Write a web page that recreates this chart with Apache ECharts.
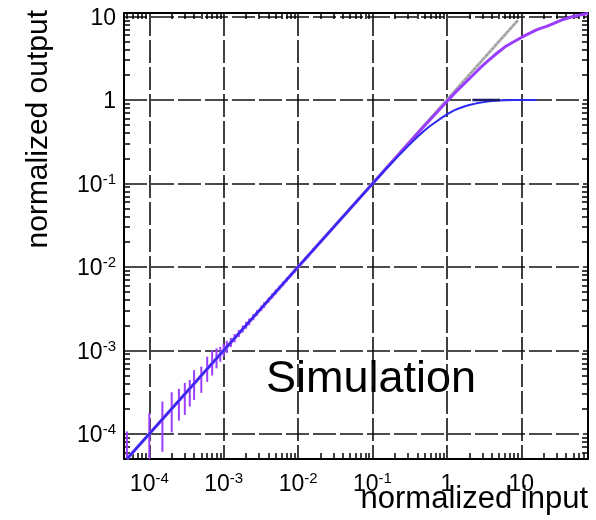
<!DOCTYPE html>
<html>
<head>
<meta charset="utf-8">
<script src="https://cdn.jsdelivr.net/npm/echarts@6/dist/echarts.min.js"></script>
<style>
  html, body { margin: 0; padding: 0; background: #fff; }
  #chart { width: 596px; height: 520px; }
</style>
</head>
<body>
<div id="chart"></div>
<script>
// Axis ranges (normalized input / normalized output)
const xRange = [4.57e-5, 78.9];
const yRange = [5e-5, 11];

// Decade tick values and their labels
const xTickValues = [1e-4, 1e-3, 1e-2, 1e-1, 1, 10];
const xTickLabels = ['{b|10}{s|-4}', '{b|10}{s|-3}', '{b|10}{s|-2}', '{b|10}{s|-1}', '{b|1}', '{b|10}'];
const yTickValues = [1e-4, 1e-3, 1e-2, 1e-1, 1, 10];
const yTickLabels = ['{b|10}{s|-4}', '{b|10}{s|-3}', '{b|10}{s|-2}', '{b|10}{s|-1}', '{b|1}', '{b|10}'];

// Ideal linear response
const idealX = [5e-5, 9];
const idealY = [5e-5, 9];

// Hard-limited segment at unity
const clipX = [2.2, 5.2];
const clipY = [1, 1];

// Simulation curve (purple)
const simX = [5e-5, 1e-3, 1e-2, 0.1, 0.15, 0.2, 0.3, 0.4, 0.5, 0.7, 1, 1.3, 1.66, 2.2, 2.78, 3.5, 4.66, 6, 7.5, 9.1,
  11, 13.5, 16, 19, 21.9, 26, 31, 36.6, 43, 50, 58, 65, 72, 79];
const simY = [5e-5, 1e-3, 1e-2, 0.099, 0.149, 0.198, 0.296, 0.393, 0.49, 0.68, 0.96, 1.23, 1.52, 1.95, 2.4, 2.9, 3.6, 4.3, 4.85, 5.33,
  5.85, 6.4, 6.9, 7.3, 7.6, 8.1, 8.65, 9.2, 9.65, 10.0, 10.3, 10.5, 10.7, 10.85];

// Model curve (blue)
const modelX = [5e-5, 1e-3, 1e-2, 0.1, 0.15, 0.2, 0.3, 0.4, 0.5, 0.6, 0.7, 0.85, 1, 1.25, 1.5, 1.75, 2, 2.5, 3, 3.5, 4, 5, 6, 8, 10, 16];
const modelY = [5e-5, 1e-3, 1e-2, 0.099, 0.147, 0.193, 0.28, 0.36, 0.43, 0.49, 0.54, 0.61, 0.67, 0.75, 0.8, 0.84, 0.87, 0.91, 0.935, 0.955, 0.97, 0.983, 0.99, 0.997, 1.0, 1.0];

// Simulation spread at low input levels
const barX = [5e-5, 1e-4, 1.5e-4, 2e-4, 2.5e-4, 3e-4, 3.5e-4, 4e-4, 5e-4, 6e-4, 7e-4, 8e-4, 9e-4, 1e-3,
  1.1e-3, 1.25e-3, 1.4e-3, 1.6e-3, 1.8e-3, 2e-3, 2.2e-3, 2.5e-3, 2.8e-3, 3.2e-3, 3.5e-3, 4e-3, 4.5e-3, 5e-3,
  5.6e-3, 6.3e-3, 7.1e-3, 8e-3, 9e-3, 1e-2, 1.1e-2, 1.25e-2, 1.4e-2, 1.6e-2, 1.8e-2, 2e-2, 2.5e-2, 3.2e-2, 4e-2, 5e-2];
const barLow = [5e-5, 5e-5, 6.1e-5, 1.04e-4, 1.44e-4, 1.69e-4, 2.12e-4, 2.55e-4, 3.1e-4, 4.2e-4, 5.0e-4, 6.1e-4, 7.3e-4, 8.4e-4,
  9.3e-4, 1.1e-3, 1.25e-3, 1.45e-3, 1.64e-3, 1.82e-3, 2.0e-3, 2.3e-3, 2.58e-3, 2.96e-3, 3.24e-3, 3.73e-3, 4.2e-3, 4.67e-3,
  5.26e-3, 5.92e-3, 6.67e-3, 7.57e-3, 8.51e-3, 9.46e-3, 1.05e-2, 1.19e-2, 1.335e-2, 1.535e-2, 1.727e-2, 1.92e-2, 2.415e-2, 3.09e-2, 3.86e-2, 4.83e-2];
const barHigh = [1.07e-4, 1.78e-4, 2.44e-4, 3.15e-4, 3.46e-4, 4.08e-4, 4.43e-4, 5.8e-4, 6.4e-4, 8.4e-4, 1.0e-3, 1.06e-3, 1.1e-3, 1.2e-3,
  1.3e-3, 1.41e-3, 1.57e-3, 1.76e-3, 1.98e-3, 2.2e-3, 2.41e-3, 2.72e-3, 3.04e-3, 3.45e-3, 3.78e-3, 4.29e-3, 4.82e-3, 5.36e-3,
  5.96e-3, 6.7e-3, 7.56e-3, 8.46e-3, 9.51e-3, 1.057e-2, 1.154e-2, 1.31e-2, 1.468e-2, 1.667e-2, 1.876e-2, 2.085e-2, 2.59e-2, 3.31e-2, 4.14e-2, 5.18e-2];

const FONT = "'Liberation Sans', Arial, Helvetica, sans-serif";
const PURPLE = '#9b3dff';
const BLUE = '#2a2af0';

// Minor ticks (2..9 within every decade), expressed in log10 units
function minorTicks(range) {
  const out = [];
  const lo = Math.log10(range[0]), hi = Math.log10(range[1]);
  for (let k = Math.floor(lo) - 1; k <= Math.ceil(hi); k++) {
    for (let m = 2; m <= 9; m++) {
      const v = Math.log10(m) + k;
      if (v > lo && v < hi) out.push(v);
    }
  }
  return out;
}
const xMinor = minorTicks(xRange);
const yMinor = minorTicks(yRange);

function labelFor(values, labels) {
  return function (v) {
    for (let i = 0; i < values.length; i++) {
      if (Math.abs(Math.log10(v) - Math.log10(values[i])) < 1e-6) return labels[i];
    }
    return '';
  };
}

const richLabel = {
  b: { fontSize: 23, lineHeight: 23, padding: [4, 0, 0, 0], fontFamily: FONT, color: '#000' },
  s: { fontSize: 15, lineHeight: 15, verticalAlign: 'top', fontFamily: FONT, color: '#000' }
};

const gridLine = { show: true, lineStyle: { color: '#111', width: 1.6, type: [23, 4] } };
const frameLine = { show: true, onZero: false, lineStyle: { color: '#000', width: 2 } };
const noLine = { show: false, onZero: false };
const minorTick = (values) => ({ show: true, inside: true, length: 6, customValues: values, lineStyle: { color: '#000', width: 1.5 } });

const pairs = (xs, ys) => xs.map((x, i) => [x, ys[i]]);

const chart = echarts.init(document.getElementById('chart'), null, { renderer: 'canvas' });

const rect = { left: 124, right: 8, top: 13, bottom: 61, containLabel: false, outerBoundsMode: 'none' };

chart.setOption({
  animation: false,
  backgroundColor: '#fff',
  grid: [Object.assign({}, rect), Object.assign({}, rect)],
  xAxis: [
    {
      gridIndex: 0, type: 'log', logBase: 10, position: 'bottom', min: xRange[0], max: xRange[1],
      axisLine: frameLine, axisTick: { show: false }, splitLine: gridLine,
      axisLabel: { show: true, margin: 12, formatter: labelFor(xTickValues, xTickLabels), rich: richLabel, hideOverlap: false }
    },
    {
      gridIndex: 0, type: 'value', position: 'top', min: Math.log10(xRange[0]), max: Math.log10(xRange[1]),
      axisLine: frameLine, axisTick: minorTick(xMinor), axisLabel: { show: false }, splitLine: { show: false }
    },
    {
      gridIndex: 1, type: 'value', position: 'bottom', min: Math.log10(xRange[0]), max: Math.log10(xRange[1]),
      axisLine: noLine, axisTick: minorTick(xMinor), axisLabel: { show: false }, splitLine: { show: false }
    }
  ],
  yAxis: [
    {
      gridIndex: 0, type: 'log', logBase: 10, position: 'left', min: yRange[0], max: yRange[1],
      axisLine: frameLine, axisTick: { show: false }, splitLine: gridLine,
      axisLabel: { show: true, margin: 8, formatter: labelFor(yTickValues, yTickLabels), rich: richLabel, hideOverlap: false }
    },
    {
      gridIndex: 0, type: 'value', position: 'right', min: Math.log10(yRange[0]), max: Math.log10(yRange[1]),
      axisLine: frameLine, axisTick: minorTick(yMinor), axisLabel: { show: false }, splitLine: { show: false }
    },
    {
      gridIndex: 1, type: 'value', position: 'left', min: Math.log10(yRange[0]), max: Math.log10(yRange[1]),
      axisLine: noLine, axisTick: minorTick(yMinor), axisLabel: { show: false }, splitLine: { show: false }
    }
  ],
  series: [
    {
      name: 'ideal', type: 'line', xAxisIndex: 0, yAxisIndex: 0, data: pairs(idealX, idealY),
      showSymbol: false, silent: true, z: 2,
      lineStyle: { color: '#b4b4b4', width: 3 }
    },
    {
      name: 'ideal-core', type: 'line', xAxisIndex: 0, yAxisIndex: 0, data: pairs(idealX, idealY),
      showSymbol: false, silent: true, z: 2,
      lineStyle: { color: '#444', width: 1, type: [1.5, 3], opacity: 0.6 }
    },
    {
      name: 'spread', type: 'custom', xAxisIndex: 0, yAxisIndex: 0, silent: true, z: 3,
      data: barX.map((x, i) => [x, barLow[i], barHigh[i]]),
      encode: { x: 0, y: [1, 2] },
      renderItem: function (params, api) {
        const p1 = api.coord([api.value(0), api.value(1)]);
        const p2 = api.coord([api.value(0), api.value(2)]);
        return {
          type: 'line',
          shape: { x1: p1[0], y1: p1[1], x2: p2[0], y2: p2[1] },
          style: { stroke: PURPLE, lineWidth: 2 }
        };
      }
    },
    {
      name: 'simulation', type: 'line', xAxisIndex: 0, yAxisIndex: 0, data: pairs(simX, simY),
      showSymbol: false, silent: true, z: 4,
      lineStyle: { color: PURPLE, width: 3 }
    },
    {
      name: 'model', type: 'line', xAxisIndex: 0, yAxisIndex: 0, data: pairs(modelX, modelY),
      showSymbol: false, silent: true, z: 5,
      lineStyle: { color: BLUE, width: 2 }
    },
    {
      name: 'limit', type: 'line', xAxisIndex: 0, yAxisIndex: 0, data: pairs(clipX, clipY),
      showSymbol: false, silent: true, z: 6,
      lineStyle: { color: '#1a1a66', width: 2.5 }
    }
  ],
  graphic: [
    {
      type: 'text', x: 39, y: 10, rotation: Math.PI / 2, silent: true,
      style: { text: 'normalized output', fontSize: 30, fontFamily: FONT, fill: '#000', align: 'right', verticalAlign: 'middle' }
    },
    {
      type: 'text', x: 588, y: 484, silent: true,
      style: { text: 'normalized input', fontSize: 31, fontFamily: FONT, fill: '#000', align: 'right', verticalAlign: 'top' }
    },
    {
      type: 'text', x: 266, y: 357, silent: true,
      style: { text: 'Simulation', fontSize: 45, fontFamily: FONT, fill: '#000', align: 'left', verticalAlign: 'top' }
    }
  ]
});
</script>
</body>
</html>
